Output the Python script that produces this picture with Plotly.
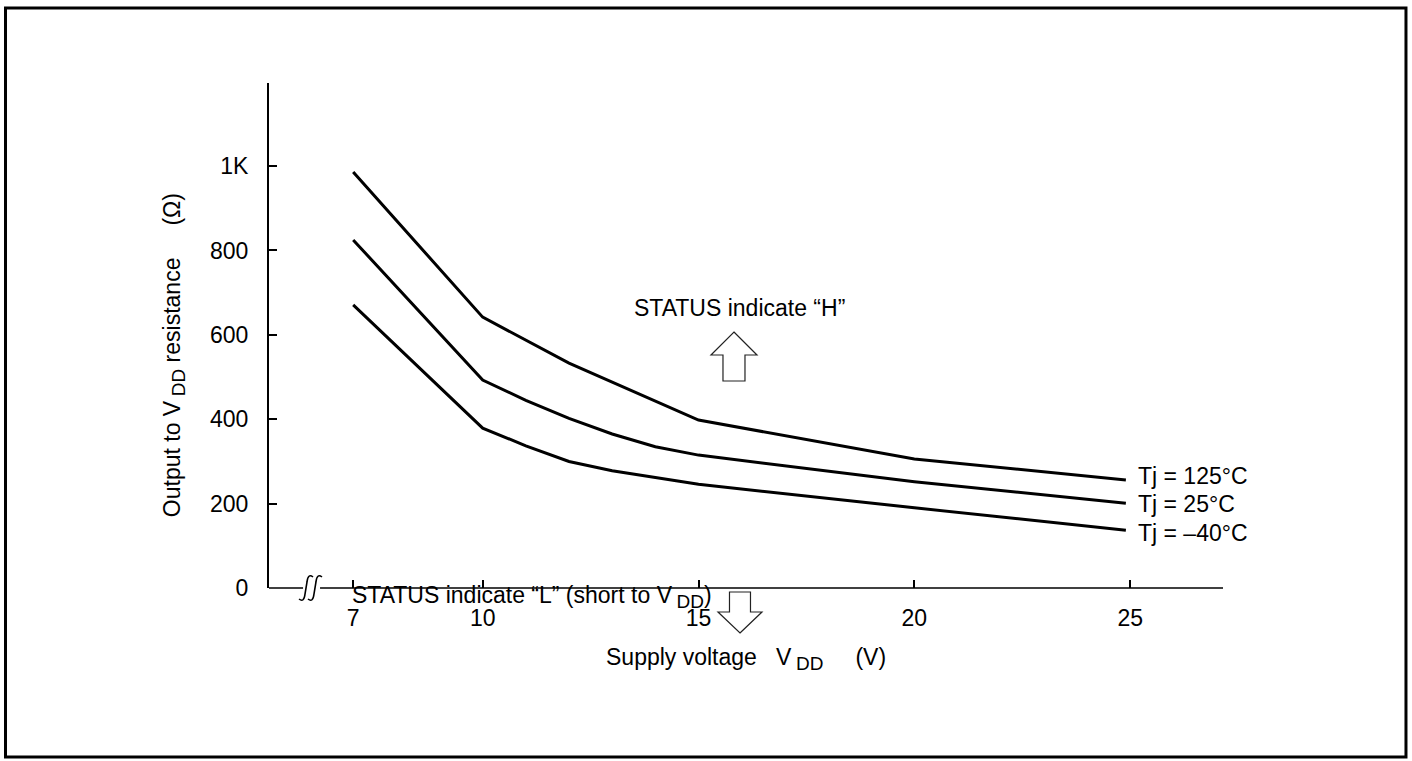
import plotly.graph_objects as go

# Supply voltage V_DD (V) and output-to-V_DD resistance (ohm) per junction temperature
vdd_125 = [7, 10, 12, 15, 20, 24.9]
res_125 = [986, 642, 533, 398, 306, 256]

vdd_25 = [7, 10, 11, 12, 13, 14, 15, 20, 24.9]
res_25 = [825, 493, 445, 402, 365, 335, 315, 252, 201]

vdd_m40 = [7, 10, 11, 12, 13, 15, 20, 24.9]
res_m40 = [671, 379, 337, 300, 278, 246, 190, 137]

series_labels = ["Tj = 125°C", "Tj = 25°C", "Tj = –40°C"]
label_yshift = [4, -1, -3]

x_ticks = [7, 10, 15, 20, 25]
y_ticks = [0, 200, 400, 600, 800, 1000]
y_ticktext = ["0", "200", "400", "600", "800", "1K"]

FONT = "Liberation Sans, Arial, Helvetica, sans-serif"
INK = "#000000"
VDD = "V\u2009<sub><span style='font-size:19px'>DD</span></sub>"

fig = go.Figure()
curves = [(vdd_125, res_125), (vdd_25, res_25), (vdd_m40, res_m40)]
for (xs, ys), name in zip(curves, series_labels):
    fig.add_trace(go.Scatter(x=xs, y=ys, mode="lines", name=name,
                             line=dict(color=INK, width=3), showlegend=False,
                             hoverinfo="skip"))

annotations = []
for (xs, ys), name, dy in zip(curves, series_labels, label_yshift):
    annotations.append(dict(x=xs[-1], y=ys[-1], xref="x", yref="y", text=name,
                            showarrow=False, xanchor="left", yanchor="middle",
                            xshift=10, yshift=dy,
                            font=dict(family=FONT, size=23, color=INK)))

annotations += [
    dict(x=0.3805, y=0.5545, xref="paper", yref="paper",
         text="STATUS indicate “H”", showarrow=False,
         xanchor="left", yanchor="middle",
         font=dict(family=FONT, size=23, color=INK)),
    dict(x=0.466, y=-0.017, xref="paper", yref="paper",
         text="STATUS indicate “L” (short to " + VDD + ")", showarrow=False,
         xanchor="right", yanchor="middle",
         font=dict(family=FONT, size=23, color=INK)),
    dict(x=0.4995, y=-0.1406, xref="paper", yref="paper",
         text="Supply voltage\u00a0\u00a0 " + VDD + "\u00a0\u00a0\u00a0\u00a0\u00a0(V)",
         showarrow=False, xanchor="center", yanchor="middle",
         font=dict(family=FONT, size=23, color=INK)),
    dict(x=-0.0996, y=0.461, xref="paper", yref="paper", textangle=-90,
         text="Output to " + VDD + " resistance\u00a0\u00a0\u00a0\u00a0\u00a0(Ω)",
         showarrow=False, xanchor="center", yanchor="middle",
         font=dict(family=FONT, size=23, color=INK)),
]


def pixel_path(xp, yp, d, width=1.2, color="#222222"):
    return dict(type="path", xref="paper", yref="paper",
                xsizemode="pixel", ysizemode="pixel",
                xanchor=xp, yanchor=yp, path=d, layer="above",
                line=dict(color=color, width=width), fillcolor="rgba(0,0,0,0)")


shapes = [
    # outer frame
    dict(type="rect", xref="paper", yref="paper",
         x0=-0.2762, x1=1.1918, y0=-0.3347, y1=1.1485,
         line=dict(color=INK, width=3), layer="above"),
    # x axis line with a break near the origin
    dict(type="line", xref="paper", yref="paper", x0=0, x1=0.0357, y0=0, y1=0,
         line=dict(color=INK, width=1.6), layer="above"),
    dict(type="line", xref="paper", yref="paper", x0=0.0535, x1=1, y0=0, y1=0,
         line=dict(color=INK, width=1.6), layer="above"),
    pixel_path(0.0388, 0, "M 7 11 Q 2 15 1 6 L -1 -6 Q -2 -15 -7 -11",
               width=1.6, color=INK),
    pixel_path(0.0482, 0, "M 7 11 Q 2 15 1 6 L -1 -6 Q -2 -15 -7 -11",
               width=1.6, color=INK),
    # up arrow (STATUS "H")
    pixel_path(0.4874, 0.5069,
               "M 0 0 L 23 -23 L 11 -23 L 11 -49 L -11 -49 L -11 -23 L -23 -23 Z"),
    # down arrow (STATUS "L")
    pixel_path(0.4937, -0.0891,
               "M 0 0 L 22 21 L 10.5 21 L 10.5 41 L -10.5 41 L -10.5 21 L -22 21 Z"),
]

fig.update_layout(
    width=1412, height=761, autosize=False,
    margin=dict(l=269, r=189, t=83, b=173, pad=0),
    paper_bgcolor="white", plot_bgcolor="white",
    showlegend=False,
    annotations=annotations,
    shapes=shapes,
)

fig.update_xaxes(range=[5.05, 27.15], showgrid=False, zeroline=False,
                 showline=False, tickmode="array", tickvals=x_ticks,
                 ticks="inside", ticklen=8, tickwidth=1.5, tickcolor=INK,
                 ticklabelstandoff=14,
                 tickfont=dict(family=FONT, size=23, color=INK))
fig.update_yaxes(range=[0, 1197], showgrid=False, zeroline=False,
                 showline=True, linecolor=INK, linewidth=2,
                 tickmode="array", tickvals=y_ticks, ticktext=y_ticktext,
                 ticks="inside", ticklen=8, tickwidth=1.5, tickcolor=INK,
                 ticklabelstandoff=14,
                 tickfont=dict(family=FONT, size=23, color=INK))

fig.write_html("out.html")
